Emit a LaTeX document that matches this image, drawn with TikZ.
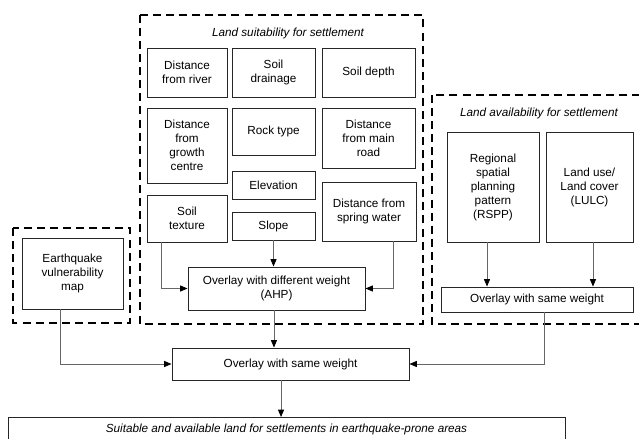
\documentclass[tikz,border=0pt]{standalone}
\usepackage{fontspec}
\setmainfont{Liberation Sans}
\usetikzlibrary{arrows.meta}
\begin{document}
\begin{tikzpicture}[x=0.75pt,y=-0.75pt,
  every node/.style={font=\fontsize{8.8}{10.5}\selectfont, align=center, inner sep=1pt},
  box/.style={draw=black!85, line width=0.7pt, rectangle},
  grp/.style={draw=black, line width=1.5pt, dash pattern=on 6pt off 3.8pt},
  arr/.style={draw=black!60, line width=0.6pt, -{Triangle[length=5.5pt,width=4.5pt,fill=black,color=black]}},
  ttl/.style={font=\fontsize{8.8}{10.5}\selectfont\itshape}
]
\useasboundingbox (0,0) rectangle (639,439);
% group frames
\draw[grp] (140,15) rectangle (423,324);
\draw[grp] (432,95) rectangle (660,324);
\draw[grp] (13,228) rectangle (130,323);
\node[ttl] (tsuit) at (288,33) {Land suitability for settlement};
\node[ttl] (tavail) at (539,113) {Land availability for settlement};
% suitability factors
\node[box, minimum width=60pt, minimum height=36.75pt] (river) at (187,72.5) {Distance\\from river};
\node[box, minimum width=62.25pt, minimum height=36.75pt] (drain) at (273.5,72.5) {Soil\\drainage};
\node[box, minimum width=69.75pt, minimum height=36.75pt] (depth) at (368.5,72.5) {Soil depth};
\node[box, minimum width=60pt, minimum height=56.25pt] (growth) at (187,145.5) {Distance\\from\\growth\\centre};
\node[box, minimum width=62.25pt, minimum height=35.25pt] (rock) at (273.5,131.5) {Rock type};
\node[box, minimum width=69.75pt, minimum height=45pt] (road) at (368.5,138) {Distance\\from main\\road};
\node[box, minimum width=62.25pt, minimum height=21pt] (elev) at (273.5,185) {Elevation};
\node[box, minimum width=60pt, minimum height=35.25pt] (texture) at (187,218.5) {Soil\\texture};
\node[box, minimum width=62.25pt, minimum height=21pt] (slope) at (273.5,226) {Slope};
\node[box, minimum width=70.5pt, minimum height=44.25pt] (spring) at (369,211.5) {Distance from\\spring water};
\node[box, minimum width=132.75pt, minimum height=32.25pt] (ahp) at (276.5,288.5) {Overlay with different weight\\(AHP)};
% availability
\node[box, minimum width=69pt, minimum height=82.5pt] (rspp) at (493,187) {Regional\\spatial\\planning\\pattern\\(RSPP)};
\node[box, minimum width=65.25pt, minimum height=82.5pt] (lulc) at (589.5,187) {Land use/\\Land cover\\(LULC)};
\node[box, minimum width=144pt, minimum height=18.75pt] (ovr) at (537,299.5) {Overlay with same weight};
% earthquake
\node[box, minimum width=75.75pt, minimum height=53.25pt] (eq) at (72.5,273.5) {Earthquake\\vulnerability\\map};
% bottom
\node[box, minimum width=177.75pt, minimum height=24pt] (ovb) at (290.5,364) {Overlay with same weight};
\node[box, minimum width=417.75pt, minimum height=18pt, font=\fontsize{8.8}{10.5}\selectfont\itshape] (final) at (286.5,429.5) {Suitable and available land for settlements in earthquake-prone areas};
% connectors
\draw[arr] ([xshift=-19.5pt]texture.south) |- (ahp.west);
\draw[arr] (slope.south) -- (slope.south |- ahp.north);
\draw[arr] ([xshift=18pt]spring.south) |- (ahp.east);
\draw[arr] ([xshift=-4.5pt]rspp.south) -- ([xshift=-4.5pt]rspp.south |- ovr.north);
\draw[arr] ([xshift=2.6pt]lulc.south) -- ([xshift=2.6pt]lulc.south |- ovr.north);
\draw[arr] ([xshift=-1.9pt]ahp.south) -- ([xshift=-1.9pt]ahp.south |- ovb.north);
\draw[arr] ([xshift=-9.4pt]eq.south) |- (ovb.west);
\draw[arr] ([xshift=5.2pt]ovr.south) |- (ovb.east);
\draw[arr] ([xshift=-7.1pt]ovb.south) -- ([xshift=-7.1pt]ovb.south |- final.north);
\end{tikzpicture}
\end{document}
